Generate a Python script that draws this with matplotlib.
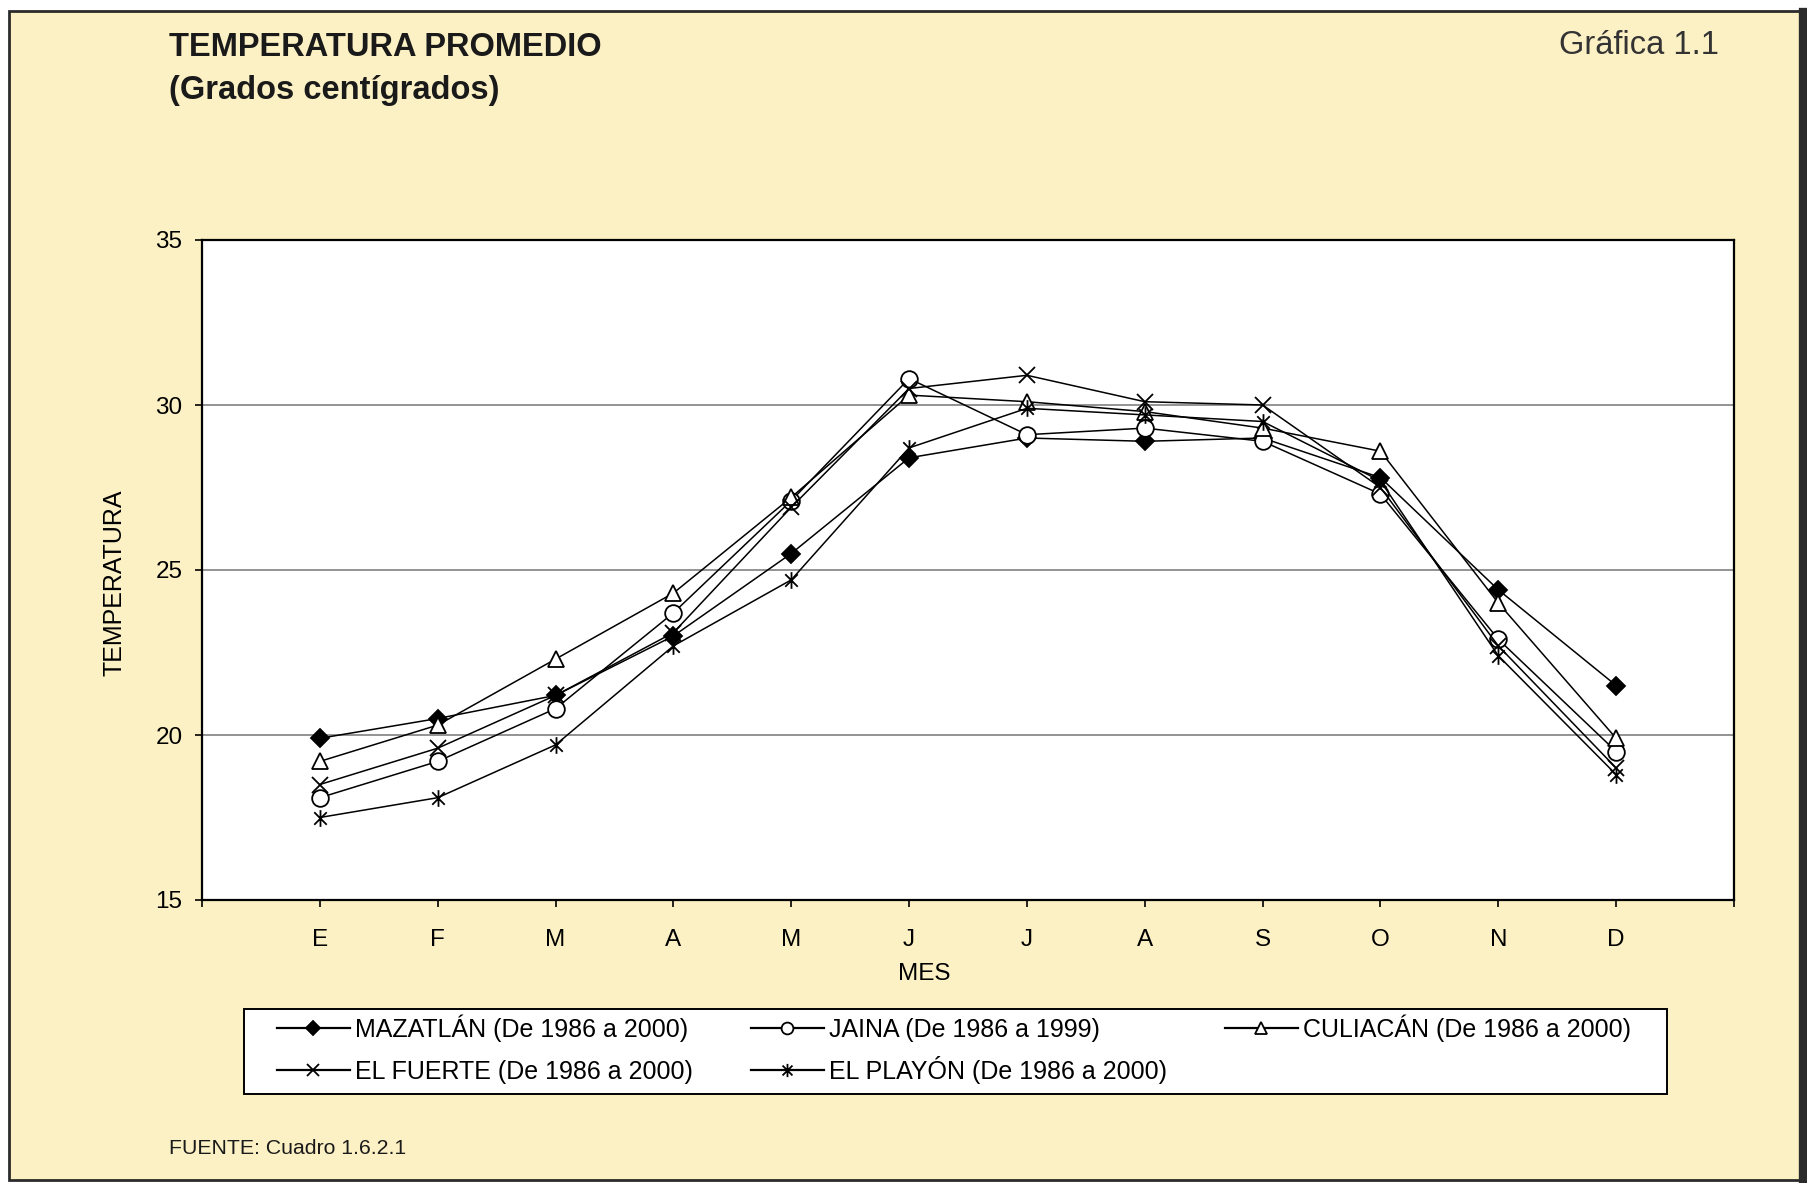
import numpy as np
import matplotlib
matplotlib.use('Agg')
import matplotlib.pyplot as plt
from matplotlib.patches import Rectangle
from matplotlib.lines import Line2D
from matplotlib.path import Path

# ====================================
# DATA
# ====================================
months = ['E', 'F', 'M', 'A', 'M', 'J', 'J', 'A', 'S', 'O', 'N', 'D']

mazatlan = [19.9, 20.5, 21.2, 23.0, 25.5, 28.4, 29.0, 28.9, 29.0, 27.8, 24.4, 21.5]
jaina = [18.1, 19.2, 20.8, 23.7, 27.1, 30.8, 29.1, 29.3, 28.9, 27.3, 22.9, 19.5]
culiacan = [19.2, 20.3, 22.3, 24.3, 27.2, 30.3, 30.1, 29.8, 29.3, 28.6, 24.0, 19.9]
el_fuerte = [18.5, 19.6, 21.2, 23.1, 26.9, 30.5, 30.9, 30.1, 30.0, 27.5, 22.7, 19.0]
el_playon = [17.5, 18.1, 19.7, 22.7, 24.7, 28.7, 29.9, 29.7, 29.5, 27.7, 22.4, 18.8]

labels = ['MAZATLÁN (De 1986 a 2000)', 'JAINA (De 1986 a 1999)',
          'CULIACÁN (De 1986 a 2000)', 'EL FUERTE (De 1986 a 2000)',
          'EL PLAYÓN (De 1986 a 2000)']

y_ticks = [15, 20, 25, 30, 35]

# ====================================
# LAYOUT HELPERS (pixel -> figure fraction)
# ====================================
W, H = 1807, 1183
fx = lambda x: x / W
fy = lambda y: 1 - y / H

plt.rcParams['font.family'] = ['Liberation Sans', 'DejaVu Sans']
BG = '#fcf1c4'

fig = plt.figure(figsize=(W / 100, H / 100), dpi=100, facecolor='white')

# yellow page with dark border (kept behind the axes)
fig.patches.append(Rectangle((fx(9), fy(1180)), fx(1800) - fx(9), fy(11) - fy(1180),
                             transform=fig.transFigure, facecolor=BG,
                             edgecolor='#2b2b2b', linewidth=2.0, zorder=-10))
fig.add_artist(Line2D([fx(1803), fx(1803)], [fy(12), fy(1180)],
                      transform=fig.transFigure, color='#2b2b2b', linewidth=6, zorder=-9))

# asterisk marker like the spreadsheet one
star = Path([(0, -1), (0, 1), (-0.75, -0.75), (0.75, 0.75), (-0.75, 0.75), (0.75, -0.75)],
            [Path.MOVETO, Path.LINETO] * 3)

ax = fig.add_axes([fx(202), fy(900), fx(1734) - fx(202), fy(240) - fy(900)])
ax.set_facecolor('white')
ax.set_zorder(1)

x = np.arange(len(months))
series = [mazatlan, jaina, culiacan, el_fuerte, el_playon]
styles = [
    dict(marker='D', markerfacecolor='black'),
    dict(marker='o', markerfacecolor='white'),
    dict(marker='^', markerfacecolor='white'),
    dict(marker='x', markerfacecolor='none'),
    dict(marker=star, markerfacecolor='none'),
]
plot_sizes = [9, 12, 12, 11, 12]
legend_sizes = [7.5, 8.5, 8.5, 9, 9.5]

for vals, lab, st, ms in zip(series, labels, styles, plot_sizes):
    ax.plot(x, vals, color='black', linewidth=1.1, markeredgecolor='black',
            markeredgewidth=1.3, markersize=ms, label=lab, zorder=3, **st)

ax.set_xlim(-1, 12)
ax.set_ylim(15, 35)
ax.set_yticks(y_ticks)
ax.set_xticks(np.arange(-1, 13))
ax.set_xticklabels([''] + months + [''])
ax.yaxis.grid(True, color='#8a8a8a', linewidth=1.3, zorder=1)
ax.set_axisbelow(True)

for sp in ax.spines.values():
    sp.set_color('black')
    sp.set_linewidth(1.6)

ax.tick_params(axis='y', direction='out', length=5, width=1.2, pad=9, labelsize=17.5)
ax.tick_params(axis='x', direction='out', length=5, width=1.2, pad=16, labelsize=17.5)

# axis titles
fig.text(fx(924), fy(974), 'MES', ha='center', va='center', fontsize=17.5)
fig.text(fx(115), fy(583), 'TEMPERATURA', ha='center', va='center', rotation=90, fontsize=18)

# header
fig.text(fx(169), fy(47), 'TEMPERATURA PROMEDIO', ha='left', va='center',
         fontsize=23.5, fontweight='bold', color='#1a1a1a')
fig.text(fx(169), fy(90), '(Grados centígrados)', ha='left', va='center',
         fontsize=23.5, fontweight='bold', color='#1a1a1a')
fig.text(fx(1719), fy(46), 'Gráfica 1.1', ha='right', va='center',
         fontsize=23.5, color='#333333')

# footnote
fig.text(fx(169), fy(1149), 'FUENTE: Cuadro 1.6.2.1', ha='left', va='center',
         fontsize=15.3, color='#1a1a1a')

# ====================================
# LEGEND (drawn by hand, row-major like the original)
# ====================================
fig.patches.append(Rectangle((fx(244), fy(1094)), fx(1667) - fx(244), fy(1009) - fy(1094),
                             transform=fig.transFigure, facecolor='white',
                             edgecolor='black', linewidth=1.4, zorder=1))
col_x = [277, 751, 1225]
row_y = [1028, 1070]
slots = [(0, 0), (0, 1), (0, 2), (1, 0), (1, 1)]
for (r, c), lab, st, ms in zip(slots, labels, styles, legend_sizes):
    x0, y0 = col_x[c], row_y[r]
    fig.add_artist(Line2D([fx(x0), fx(x0 + 73)], [fy(y0), fy(y0)],
                          transform=fig.transFigure, color='black', linewidth=1.6, zorder=2))
    fig.add_artist(Line2D([fx(x0 + 36)], [fy(y0)], transform=fig.transFigure,
                          linestyle='none', markeredgecolor='black', markeredgewidth=1.3,
                          markersize=ms, zorder=3, **st))
    fig.text(fx(x0 + 78), fy(y0 + 9), lab, ha='left', va='baseline',
             fontsize=18, color='black', zorder=3)

fig.savefig('out.png', dpi=100, facecolor='white')
